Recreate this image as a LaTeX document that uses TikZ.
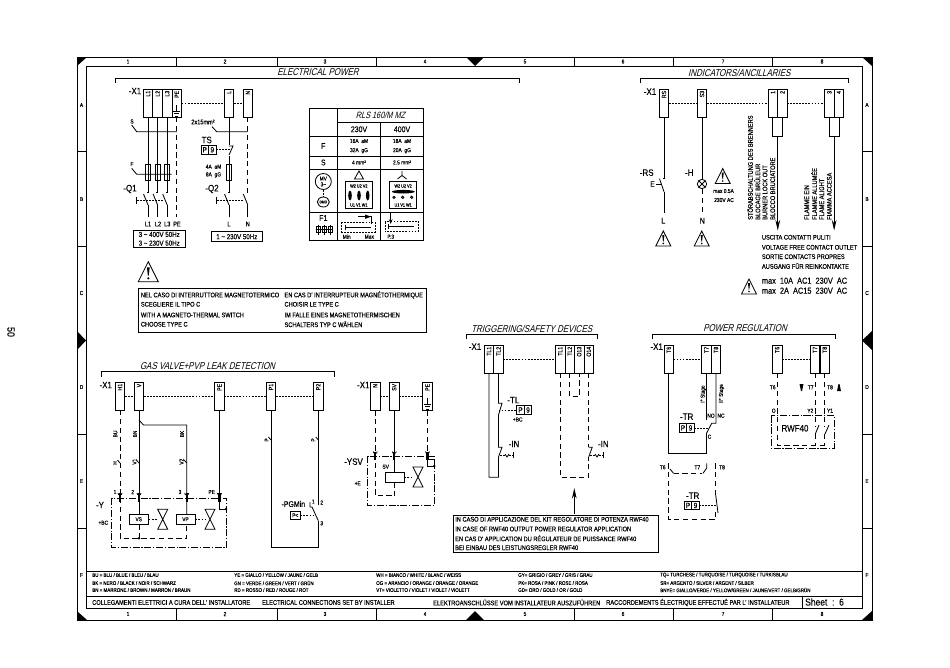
\documentclass[tikz,border=0pt]{standalone}
\usepackage{fontspec}
\setmainfont[FakeStretch=.85,FakeBold=.2]{Liberation Sans}
\newfontfamily\slfont[FakeSlant=.25,FakeStretch=.8]{Liberation Sans}
\usetikzlibrary{positioning,arrows.meta,shapes.geometric}
\tikzset{
  wire/.style={line width=.7pt},
  frameline/.style={line width=.85pt},
  link/.style={line width=.7pt,dash pattern=on 1.6pt off 1pt},
  neutral/.style={line width=.7pt,dash pattern=on 4.5pt off 3pt},
  encl/.style={line width=.7pt,dash pattern=on 6pt off 1.5pt on 1pt off 1.5pt},
  term/.style={draw,line width=.7pt,minimum width=.285cm,minimum height=.84cm,inner sep=0pt,outer sep=0pt},
  termlab/.style={rotate=90,anchor=east,inner sep=1.2pt,font=\fontsize{5.2}{6}\selectfont},
  pbox/.style={draw,line width=.7pt,minimum width=.225cm,minimum height=.255cm,inner sep=0pt,outer sep=0pt,font=\fontsize{6.5}{7}\selectfont},
  fuse/.style={draw,line width=.7pt,minimum width=.14cm,minimum height=.47cm,inner sep=0pt},
  coil/.style={draw,fill=white,line width=.7pt,minimum width=.57cm,minimum height=.3cm,inner sep=0pt,font=\fontsize{4.8}{5}\selectfont},
  sheettitle/.style={font=\slfont\fontsize{8.5}{9}\selectfont,inner sep=0pt},
  big/.style={font=\fontsize{8}{9}\selectfont,inner sep=0pt},
  mid/.style={font=\fontsize{6.5}{7}\selectfont,inner sep=0pt},
  txt/.style={font=\fontsize{5.7}{6}\selectfont,inner sep=0pt,anchor=west},
  tiny/.style={font=\fontsize{4.9}{5}\selectfont,inner sep=0pt},
  leg/.style={font=\fontsize{4.5}{5}\selectfont,inner sep=0pt,anchor=west},
  dot/.style={circle,fill,inner sep=0pt,minimum size=2.4pt}
}
\begin{document}
\begin{tikzpicture}[x=.03cm,y=-.03cm]
  \useasboundingbox (0,0) rectangle (950,667);
  \node[font=\fontsize{9}{10}\selectfont,rotate=-90,inner sep=0pt] (page) at (11,332) {50};

  \draw[frameline] (77,57) rectangle (872,620);
  \draw[frameline] (86,66) rectangle (862,608);
  \foreach \cx in {176,277,376,574,673,772} {
    \draw[frameline] (\cx,57) -- (\cx,66);
    \draw[frameline] (\cx,608) -- (\cx,620);
  }
  \foreach \cy in {151,246,434,528} {
    \draw[frameline] (77,\cy) -- (86,\cy);
    \draw[frameline] (862,\cy) -- (872,\cy);
  }
  \foreach \i/\cx in {1/128,2/225,3/325,4/425,5/525,6/623,7/723,8/822} {
    \node[tiny] (coltop\i) at (\cx,61.5) {\i};
    \node[tiny] (colbot\i) at (\cx,614) {\i};
  }
  \foreach \r/\cy in {A/105,B/199,C/293,D/387,E/481,F/575} {
    \node[tiny] (rowl\r) at (81.5,\cy) {\r};
    \node[tiny] (rowr\r) at (867,\cy) {\r};
  }
  \fill (77,57) -- (87,57) -- (77,66) -- cycle;
  \fill (872,57) -- (862,57) -- (872,66) -- cycle;
  \fill (77,620) -- (87,620) -- (77,611) -- cycle;
  \fill (872,620) -- (862,620) -- (872,611) -- cycle;
  \fill (466,57) -- (484,57) -- (475,66) -- cycle;
  \fill (466,620) -- (484,620) -- (475,611) -- cycle;
  \fill (77,331) -- (77,350) -- (86,340.5) -- cycle;
  \fill (872,331) -- (872,350) -- (862,340.5) -- cycle;

  \draw[wire] (86,571) -- (862,571);
  \draw[wire] (86,596) -- (862,596);
  \draw[wire] (802,596) -- (802,608);
  \foreach \tx/\ty/\txt [count=\i] in {
    92/575/{BU = BLU / BLUE / BLEU / BLAU},
    92/583/{BK = NERO / BLACK / NOIR / SCHWARZ},
    92/590/{BN = MARRONE / BROWN / MARRON / BRAUN},
    234/575/{YE = GIALLO / YELLOW / JAUNE / GELB},
    234/583/{GN = VERDE / GREEN / VERT / GRÜN},
    234/590/{RD = ROSSO / RED / ROUGE / ROT},
    376/575/{WH = BIANCO / WHITE / BLANC / WEISS},
    376/583/{OG = ARANCIO / ORANGE / ORANGE / ORANGE},
    376/590/{VT= VIOLETTO / VIOLET / VIOLET / VIOLETT},
    518/575/{GY= GRIGIO / GREY / GRIS / GRAU},
    518/583/{PK= ROSA / PINK / ROSE / ROSA},
    518/590/{GD= ORO / GOLD / OR / GOLD},
    660/575/{TQ= TURCHESE / TURQUOISE / TURQUOISE / TURKISBLAU},
    660/583/{SR= ARGENTO / SILVER / ARGENT / SILBER},
    660/590/{BNYE= GIALLO/VERDE / YELLOW/GREEN / JAUNE/VERT / GELB/GRÜN}
  } {
    \node[leg] (leg\i) at (\tx,\ty) {\txt};
  }
  \node[txt] (foot1) at (92,602.5) {COLLEGAMENTI ELETTRICI A CURA DELL' INSTALLATORE};
  \node[txt] (foot2) at (262,602.5) {ELECTRICAL CONNECTIONS SET BY INSTALLER};
  \node[txt] (foot3) at (433,602.5) {ELEKTROANSCHLÜSSE VOM INSTALLATEUR AUSZUFÜHREN};
  \node[txt] (foot4) at (606,602.5) {RACCORDEMENTS ÉLECTRIQUE EFFECTUÉ PAR L' INSTALLATEUR};
  \node[big,anchor=west,font=\fontsize{8.5}{9}\selectfont] (sheet) at (805,602) {Sheet\ \ :\ \ 6};

  \foreach \bx/\by/\ex/\tc/\ttl [count=\i] in {
    115/78/519.5/318/{ELECTRICAL POWER},
    640.7/78.3/848.3/739.3/{INDICATORS/ANCILLARIES},
    101/371.7/334.3/207.5/{GAS VALVE+PVP LEAK DETECTION},
    466.7/334/597.3/531.7/{TRIGGERING/SAFETY DEVICES},
    652.3/334/835.7/745/{POWER REGULATION}
  } {
    \draw[wire] (\bx,\by+5) -- (\bx,\by) -- (\ex,\by) -- (\ex,\by+5);
    \node[sheettitle] (title\i) at (\tc,\by-5.5) {\ttl};
  }
  \foreach \n/\tx/\ty/\t in {
    pl1/148/103.2/L1, pl2/157.6/103.2/L2, pl3/167.2/103.2/L3, ppe/176.8/103.2/PE,
    pl/229/103.2/L, pn/247.8/103.2/N,
    irs/664/103.3/RS, is3/702/103.3/S3, ia/773/103.3/1, ib/782.4/103.3/2,
    ic/829.4/103.3/3, id/838.8/103.3/4,
    gh/120/396.2/H1, gv/139/396.2/V, gpe/219.5/396.2/PE, gpa/271/396.2/P1, gpb/318.3/396.2/P2,
    sn/375.2/396.3/N, ssv/394.3/396.3/SV, spe/427.5/396.3/PE,
    ta/489/359.2/TL1, tb/498.5/359.2/TL2, tc/560.2/359.2/TL1, td/569.7/359.2/TL2,
    te/579.2/359.2/O13, tf/588.7/359.2/O14,
    ra/668.7/359.2/T6, rb/706.5/359.2/T7, rc/716/359.2/T8,
    rd/777.2/359.2/T6, re/815/359.2/T7, rf/824.7/359.2/T8
  } {
    \node[term,label={[termlab]north:\t}] (\n) at (\tx,\ty) {};
  }
  \node[term,minimum width=.3cm,minimum height=.57cm,below=0pt of ia.south east] (isa) {};
  \node[term,minimum width=.3cm,minimum height=.57cm,below=0pt of ic.south east] (isb) {};
  \foreach \n/\tx/\ty in {x1a/135/91,x1b/650/91.7,x1c/105.7/385,x1d/363.3/385,x1e/475/346.7,x1f/656.7/346.7} {
    \node[big] (\n) at (\tx,\ty) {-X1};
  }
  \foreach \ex/\ey in {176.8/105,427.5/398} {
    \draw[wire] (\ex,\ey) -- (\ex,\ey+6);
    \draw[wire] (\ex-3.5,\ey+6) -- (\ex+3.5,\ey+6);
    \draw[wire] (\ex-2.5,\ey+8.5) -- (\ex+2.5,\ey+8.5);
    \draw[wire] (\ex-1.5,\ey+11) -- (\ex+1.5,\ey+11);
  }
  \draw[link] (ppe.east |- 0,103.2) -- (pl.west |- 0,103.2);
  \draw[link] (pl) -- (pn);
  \draw[link] (irs) -- (is3);
  \draw[link] (is3) -- (ia);
  \draw[link] (ib) -- (ic);
  \draw[link] (gh) -- (gv);
  \draw[link] (gv) -- (gpe);
  \draw[link] (gpe) -- (gpa);
  \draw[link] (gpa) -- (gpb);
  \draw[link] (sn) -- (ssv);
  \draw[link] (ssv) -- (spe);
  \draw[link] (tb) -- (tc);
  \draw[link] (ra) -- (rb);
  \draw[link] (rd) -- (re);

  \foreach \w/\d in {pl1/f1,pl2/f2,pl3/f3,pl/f4} {
    \node[fuse] (\d) at (\w |- 0,172.2) {};
    \draw[wire] (\w.south) -- (\w |- 0,193);
    \draw[wire] (\w |- 0,205) -- (\w |- 0,217.3);
    \draw[wire] (\w |- 0,205) -- ++(-4.5,-11);
    \draw[wire] (\w |- 0,192) -- ++(-1.5,0);
  }
  \draw[wire] (pn |- 0,205) -- (pn |- 0,217.3);
  \draw[wire] (pn |- 0,205) -- ++(-4.5,-11);
  \draw[neutral] (pn.south) -- (pn |- 0,193);
  \draw[neutral] (ppe.south) -- (ppe |- 0,217.3);
  \draw[wire] (131.7,125) -- (136.7,131.7) -- (ppe |- 0,131.7);
  \draw[wire] (131.7,168.3) -- (136.7,174.3) -- (171.7,174.3);
  \draw[wire] (212,126.7) -- (216.7,131.7) -- (pn |- 0,131.7);
  \draw[link] (136.7,200) -- (164,200);
  \draw[wire] (136.7,196.5) -- (136.7,203.5);
  \draw[link] (216.7,200) -- (244,200);
  \draw[wire] (216.7,196.5) -- (216.7,203.5);
  \node[tiny] (ls) at (132,121.5) {S};
  \node[tiny] (lf) at (132,164) {F};
  \node[big] (lq1) at (130,189) {-Q1};
  \node[big] (lq2) at (212,189) {-Q2};
  \node[tiny,font=\fontsize{5.6}{6}\selectfont] (lx) at (203,122) {2x15mm²};
  \node[big] (lts) at (206.7,140) {TS};
  \node[pbox] (tsp) at (204.8,149.8) {P};
  \node[pbox,right=0pt of tsp] (tsn) {9};
  \fill[white] (225,145) rectangle (233,156);
  \draw[wire] (pl |- 0,146) -- ++(4,0) -- (pl |- 0,155);
  \draw[link] (tsn.east) -- (231,149.8);
  \node[tiny] (lfa) at (213.5,166.7) {4A\ \ aM};
  \node[tiny] (lfb) at (213.5,175) {8A\ \ gG};
  \foreach \tx/\t in {148/L1,158/L2,167.3/L3,177/PE,229/L,247.8/N} {
    \node[tiny,font=\fontsize{5.6}{6}\selectfont] (end\t) at (\tx,224) {\t};
  }
  \node[draw,wire,minimum width=1.55cm,minimum height=.53cm,inner sep=0pt,align=left,font=\fontsize{6.2}{7.4}\selectfont] (sup3) at (159.2,238.8) {3 \textasciitilde\ 400V 50Hz\\3 \textasciitilde\ 230V 50Hz};
  \node[draw,wire,minimum width=1.55cm,minimum height=.3cm,inner sep=0pt,font=\fontsize{6.2}{7}\selectfont] (sup1) at (236.8,236.7) {1 \textasciitilde\ 230V 50Hz};

  \draw[wire] (309,108.3) rectangle (423.3,240.7);
  \draw[wire] (337.7,108.3) -- (337.7,240.7);
  \draw[wire] (380.3,122.3) -- (380.3,240.7);
  \draw[wire] (337.7,122.3) -- (423.3,122.3);
  \foreach \hy in {136.3,156,169,212.7} {
    \draw[wire] (309,\hy) -- (423.3,\hy);
  }
  \node[sheettitle,font=\slfont\fontsize{7.8}{8}\selectfont] (tabhead) at (380.5,115.5) {RLS 160/M MZ};
  \node[mid,font=\fontsize{7}{8}\selectfont] (v230) at (359,129.3) {230V};
  \node[mid,font=\fontsize{7}{8}\selectfont] (v400) at (402,129.3) {400V};
  \node[mid,font=\fontsize{7}{8}\selectfont] (tabf) at (323.3,146) {F};
  \node[mid,font=\fontsize{7}{8}\selectfont] (tabs) at (323.3,162.5) {S};
  \node[tiny] (fa) at (359,141) {16A\ \ aM};
  \node[tiny] (fb) at (359,150.7) {32A\ \ gG};
  \node[tiny] (fc) at (402,141) {18A\ \ aM};
  \node[tiny] (fd) at (402,150.7) {20A\ \ gG};
  \node[tiny] (sa) at (359,162.5) {4 mm²};
  \node[tiny] (sb) at (402,162.5) {2.5 mm²};
  \node[draw,wire,circle,minimum size=.48cm,inner sep=0pt,align=center,font=\fontsize{4.8}{5}\selectfont] (mot) at (323.3,181.5) {MV\\3\textasciitilde};
  \node[draw,wire,ellipse,minimum width=.36cm,minimum height=.3cm,inner sep=0pt,font=\fontsize{3.2}{4}\selectfont] (omo) at (323.3,202) {OMO};
  \draw[link] (mot) -- (omo);
  \draw[wire] (354.5,179) -- (359,171) -- (363.5,179) -- cycle;
  \draw[wire] (402,171) -- (402,175.5) -- (397.5,179);
  \draw[wire] (402,175.5) -- (406.5,179);
  \foreach \bx [count=\i] in {345,389.3} {
    \draw[wire] (\bx,181.7) rectangle (\bx+27.5,208.3);
    \node[font=\fontsize{3.8}{4}\selectfont,inner sep=0pt] (wa\i) at (\bx+13.8,186) {W2 U2 V2};
    \node[font=\fontsize{3.8}{4}\selectfont,inner sep=0pt] (wb\i) at (\bx+13.8,205) {U1 V1 W1};
  }
  \foreach \bx in {350,359,367.7} {
    \fill (\bx,195.5) ellipse (1.8 and 5);
  }
  \fill (403.3,191.7) ellipse (11.5 and 1.8);
  \foreach \bx in {394,402.7,411.7} {
    \draw[wire] (\bx,197.3) circle (1.2);
  }
  \node[mid,font=\fontsize{7}{8}\selectfont] (f1lab) at (323.3,218) {F1};
  \draw[wire] (315.7,229.5) -- (333.3,229.5);
  \foreach \bx in {318.5,324.5,330.5} {
    \draw[wire] (\bx-1.8,226.5) rectangle (\bx+1.8,232.5);
    \draw[wire] (\bx,224.5) -- (\bx,235);
  }
  \draw[link] (341.7,222.3) rectangle (375,232.3);
  \draw[wire] (345.7,224.5) -- (345.7,229.5);
  \draw[wire] (345.7,227) -- (370.7,227);
  \draw[wire] (358.3,216.7) -- (371.7,216.7) -- (371.7,224);
  \fill (365,214.5) -- (371,216.7) -- (365,218.9) -- cycle;
  \node[tiny] (lmin) at (346.7,236.7) {Min};
  \node[tiny] (lmax) at (369.3,236.7) {Max};
  \draw[link] (385,221.7) rectangle (418.3,231.7);
  \draw[wire] (388.5,224) -- (388.5,229);
  \draw[wire] (388.5,226.5) -- (414,226.5);
  \draw[wire,-{Stealth[length=4pt,width=3pt]}] (390.7,213.3) -- (390.7,224);
  \node[tiny] (lp3) at (390.7,236.7) {P.3};

  \foreach \tx/\ty/\ts in {148.3/281.7/20,663.3/246/15,701.7/246/15,722.7/183.5/15,749/294/15} {
    \draw[wire] (\tx-\ts/2,\ty) -- (\tx,\ty-\ts) -- (\tx+\ts/2,\ty) -- cycle;
    \fill (\tx-\ts*.07,\ty-\ts*.72) -- (\tx+\ts*.07,\ty-\ts*.72) -- (\tx+\ts*.02,\ty-\ts*.3) -- (\tx-\ts*.02,\ty-\ts*.3) -- cycle;
    \fill (\tx,\ty-\ts*.17) circle (\ts*.06);
  }
  \node[draw,wire,minimum width=8.63cm,minimum height=1.32cm,inner sep=0pt] (warnbox) at (282.2,310.3) {};
  \foreach \tx/\ty/\txt [count=\i] in {
    140.7/295/{NEL CASO DI INTERRUTTORE MAGNETOTERMICO},
    284.3/295/{EN CAS D' INTERRUPTEUR MAGNÉTOTHERMIQUE},
    140.7/304.3/{SCEGLIERE IL TIPO C},
    284.3/304.3/{CHOISIR LE TYPE C},
    140.7/315/{WITH A MAGNETO-THERMAL SWITCH},
    284.3/315/{IM FALLE EINES MAGNETOTHERMISCHEN},
    140.7/324.3/{CHOOSE TYPE C},
    284.3/324.3/{SCHALTERS TYP C WÄHLEN},
    761.7/237.3/{USCITA CONTATTI PULITI},
    761.7/247.3/{VOLTAGE FREE CONTACT OUTLET},
    761.7/256.7/{SORTIE CONTACTS PROPRES},
    761.7/266/{AUSGANG FÜR REINKONTAKTE}
  } {
    \node[txt] (note\i) at (\tx,\ty) {\txt};
  }
  \node[big,anchor=west,font=\fontsize{7.4}{8}\selectfont] (maxa) at (761.7,280.7) {max\ \ 10A\ \ AC1\ \ 230V\ \ AC};
  \node[big,anchor=west,font=\fontsize{7.4}{8}\selectfont] (maxb) at (761.7,290.7) {max\ \ 2A\ \ AC15\ \ 230V\ \ AC};

  \draw[wire] (irs.south) -- (irs |- 0,178.3) -- ++(-1.5,0);
  \draw[wire] (irs |- 0,191.7) -- (irs |- 0,213.3);
  \draw[wire] (irs |- 0,191.7) -- ++(-4.5,-13);
  \draw[wire] (656,184) -- (661.5,184);
  \node[mid] (le) at (652.5,184) {E};
  \node[big] (lrs) at (646.7,172.7) {-RS};
  \node[big] (lh) at (689.3,172.7) {-H};
  \node[mid,font=\fontsize{7}{8}\selectfont] (ll) at (663.3,220.7) {L};
  \node[mid,font=\fontsize{7}{8}\selectfont] (ln) at (702.3,220.7) {N};
  \node[draw,wire,circle,minimum size=.28cm,inner sep=0pt,path picture={\draw[wire] (path picture bounding box.south west) -- (path picture bounding box.north east) (path picture bounding box.north west) -- (path picture bounding box.south east);}] (lamp) at (702,184) {};
  \draw[wire] (is3.south) -- (lamp.north);
  \draw[neutral] (lamp.south) -- (is3 |- 0,213.3);
  \node[tiny] (lma) at (723.5,191) {max 0.5A};
  \node[tiny] (lmb) at (724,200) {230V AC};
  \foreach \b in {isa,isb} {
    \draw[wire,-{Stealth[length=9pt,width=4pt]}] (\b.south) -- (\b |- 0,230.5);
  }
  \foreach \tx/\txt [count=\i] in {
    750/{STÖRABSCHALTUNG DES BRENNERS},
    757.3/{BLOCAGE BRÛLEUR},
    765/{BURNER LOCK OUT},
    772.7/{BLOCCO BRUCIATORE},
    806.7/{FLAMME EIN},
    814/{FLAMME ALLUMÉE},
    821.7/{FLAME ALIGHT},
    829.3/{FIAMMA ACCESA}
  } {
    \node[txt,rotate=90,anchor=west] (flag\i) at (\tx,220) {\txt};
  }

  \draw[neutral] (gh.south) -- (gh |- 0,538.3) -- (186.7,538.3) -- (186.7,524.3);
  \draw[wire] (gv.south) -- (139,514.3);
  \draw[neutral] (139,524.3) -- (139,538.3);
  \draw[wire] (139,420) -- (143.5,425) -- (186.7,425) -- (186.7,514.3);
  \draw[wire] (gpe.south) -- (219.5,509) -- (226,509);
  \node[dot] (dg1) at (139,538.3) {};
  \node[dot] (dg2) at (226,509) {};
  \node[coil] (vs) at (138.7,519.3) {VS};
  \node[coil] (vp) at (185.5,519.3) {VP};
  \draw[encl] (111.7,498.3) rectangle (226.7,547.7);
  \foreach \px/\py in {120/493.3,139/493.3,186.7/493.3,219.5/493.3,375.2/451.7,394.3/451.7,427.5/451.7} {
    \draw[line width=2pt] (\px,\py) -- (\px,\py+8.5);
    \draw[wire] (\px-2,\py-.2) arc (180:0:2);
  }
  \foreach \vx/\vy in {162.7/519.3,210/519.3,418/477} {
    \draw[wire] (\vx-5,\vy-10) -- (\vx+5,\vy-10) -- (\vx-5,\vy+10) -- (\vx+5,\vy+10) -- cycle;
  }
  \draw[link] (vs) -- (157.7,519.3);
  \draw[link] (vp) -- (205,519.3);
  \foreach \tx/\ty/\txt [count=\i] in {115/492/1,132.7/492/2,180/492/3,211.7/492/PE} {
    \node[tiny] (pin\i) at (\tx,\ty) {\txt};
  }
  \foreach \tx/\ty/\txt [count=\i] in {115.3/434/BU,115/463/H,135/434/BN,134.5/461.7/V1,182/434/BK,181.5/461.7/V2,266.7/440/P,313.3/440/P} {
    \node[tiny,rotate=90] (wl\i) at (\tx,\ty) {\txt};
  }
  \foreach \sx/\sy in {120/463,139/463,186.7/463,271/440,318.3/440} {
    \draw[wire] (\sx-2.5,\sy-3) -- (\sx,\sy);
  }
  \node[big] (ly) at (100,505) {-Y};
  \node[tiny] (lbc) at (103.3,522.7) {+BC};
  \draw[wire] (gpa.south) -- (271,547.7) -- (318.3,547.7) -- (318.3,520.7);
  \draw[wire] (gpb.south) -- (318.3,505);
  \draw[wire] (318.3,520.7) -- (312,507) -- (310,507) -- (310,502);
  \node[mid,font=\fontsize{7}{8}\selectfont] (lpg) at (293.3,504) {-PGMin};
  \node[tiny] (c1) at (313.3,501.5) {1};
  \node[tiny] (c2) at (321.7,502.5) {2};
  \node[tiny] (c3) at (321.7,523.3) {3};
  \node[draw,wire,minimum width=.28cm,minimum height=.25cm,inner sep=0pt,font=\fontsize{4.8}{5}\selectfont] (pless) at (295.3,515.3) {P<};
  \draw[link] (pless) -- (314,515.3);

  \draw[neutral] (sn.south) -- (375.2,495.7) -- (394.3,495.7);
  \draw[wire] (ssv.south) -- (394.3,472.3);
  \draw[neutral] (394.3,482.3) -- (394.3,495.7);
  \draw[neutral] (spe.south) -- (427.5,451.7);
  \draw[wire] (427.5,459) -- (434.3,459) -- (434.3,466) -- (427.5,466) -- (427.5,459);
  \node[dot] (ds1) at (434.3,466) {};
  \node[coil,minimum width=.57cm] (coilsv) at (394.5,477.3) {};
  \draw[link] (coilsv) -- (413,477.3);
  \draw[encl] (367.7,456) rectangle (434.3,505.3);
  \node[tiny] (lsv) at (385.7,466.7) {SV};
  \node[big] (lysv) at (353.5,461.7) {-YSV};
  \node[tiny] (lpe) at (357.7,483.3) {+E};

  \draw[wire] (tb.south) -- (tb |- 0,403.3) -- ++(3.5,0) -- (tb |- 0,415) -- (tb |- 0,447.3) -- ++(3.5,0) -- (tb |- 0,457) -- (tb |- 0,477.3) -- (ta |- 0,477.3) -- (ta.south);
  \draw[link] (tb |- 0,410) -- (516.7,410);
  \node[pbox] (tlp) at (520.5,410) {P};
  \node[pbox,right=0pt of tlp] (tln) {9};
  \node[big] (ltl) at (513.3,400) {-TL};
  \node[tiny] (ltb) at (517.7,419.5) {+BC};
  \node[big] (lina) at (514,444) {-IN};
  \draw[link] (500,455) -- (505,455);
  \draw[link] (509,455) -- (513,455);
  \draw[wire] (505,454) -- (507,457) -- (509,454);
  \draw[wire] (513,452) -- (513,458);
  \draw[neutral] (tc.south) -- (tc |- 0,477.3) -- (tf |- 0,477.3) -- (tf |- 0,457);
  \draw[neutral] (tf.south) -- (tf |- 0,447.3);
  \draw[wire] (tf |- 0,447.3) -- ++(3.5,0) -- (tf |- 0,457);
  \draw[neutral] (td.south) -- (td |- 0,396.7) -- (te |- 0,396.7) -- (te.south);
  \node[big] (linb) at (603.3,444) {-IN};
  \draw[link] (590,455) -- (595,455);
  \draw[link] (599,455) -- (603,455);
  \draw[wire] (595,454) -- (597,457) -- (599,454);
  \draw[wire] (603,452) -- (603,458);
  \node[draw,wire,minimum width=6.15cm,minimum height=1.13cm,inner sep=0pt] (kitbox) at (555.8,533.8) {};
  \draw[wire,-{Stealth[length=9pt,width=4pt]}] (574.3,513.5) -- (574.3,488);
  \foreach \ty/\txt [count=\i] in {
    519.3/{IN CASO DI APPLICAZIONE DEL KIT REGOLATORE DI POTENZA RWF40},
    529/{IN CASE OF RWF40 OUTPUT POWER REGULATOR APPLICATION},
    538.3/{EN CAS D' APPLICATION DU RÉGULATEUR DE PUISSANCE RWF40},
    547.7/{BEI EINBAU DES LEISTUNGSREGLER RWF40}
  } {
    \node[txt] (kit\i) at (455,\ty) {\txt};
  }

  \draw[wire] (ra.south) -- (ra |- 0,453.3) -- (rb |- 0,453.3) -- (rb |- 0,433.3);
  \draw[wire] (rb.south) -- (rb |- 0,420);
  \draw[wire] (rc.south) -- (rc |- 0,423.3) -- (711.7,423.3) -- (rb |- 0,433.3);
  \node[tiny] (lno) at (711,415.7) {NO};
  \node[tiny] (lnc) at (721,415.7) {NC};
  \node[tiny] (lc) at (709.5,436.7) {C};
  \node[tiny,rotate=90] (lst1) at (703.2,394) {I° Stage};
  \node[tiny,rotate=90] (lst2) at (721.5,393.5) {II° Stage};
  \node[big] (ltr1) at (686.7,416.7) {-TR};
  \node[pbox] (trp) at (683,428) {P};
  \node[pbox,right=0pt of trp] (trn) {9};
  \draw[link] (trn.east) -- (709,428);

  \draw[neutral] (668.7,463.3) -- (668.7,519.3) -- (715.7,519.3) -- (715.7,512);
  \draw[neutral] (715.7,463.3) -- (715.7,495);
  \draw[wire] (715.7,495) -- (718,513);
  \draw[wire] (670,469) -- (673.5,473.3);
  \draw[neutral] (673.5,473.3) -- (702,473.3);
  \draw[wire] (703,473.3) -- (706.7,468) -- (706.7,463.3);
  \node[tiny] (t6a) at (662.7,467.3) {T6};
  \node[tiny] (t7a) at (697.3,467.3) {T7};
  \node[tiny] (t8a) at (722,467.3) {T8};
  \node[big] (ltr2) at (692.7,495.7) {-TR};
  \node[pbox] (tsp2) at (688,505.5) {P};
  \node[pbox,right=0pt of tsp2] (tsn2) {9};
  \draw[link] (tsn2.east) -- (716,505.5);

  \draw[neutral] (rd.south) -- (rd |- 0,445) -- (824.7,445);
  \draw[neutral] (re.south) -- (re |- 0,426);
  \draw[neutral] (rf.south) -- (rf |- 0,426);
  \draw[neutral] (re |- 0,434) -- (re |- 0,445);
  \draw[neutral] (rf |- 0,434) -- (rf |- 0,445);
  \draw[wire] (815.3,434) -- (819,425);
  \draw[wire] (825,434) -- (829,425);
  \draw[encl] (771,415.7) rectangle (834.3,448.3);
  \node[mid,font=\fontsize{8}{9}\selectfont] (lrwf) at (795,428.3) {RWF40};
  \node[tiny] (t6b) at (772.7,387.3) {T6};
  \node[tiny] (t7b) at (810.7,387.3) {T7};
  \node[tiny] (t8b) at (830,387.3) {T8};
  \node[tiny] (y0) at (773.7,410.7) {O};
  \node[tiny] (y2) at (810.3,410.7) {Y2};
  \node[tiny] (y1) at (830,410.7) {Y1};
  \fill (799.5,384) -- (803.5,384) -- (802,391) -- (801,391) -- cycle;
  \fill (837,391) -- (841,391) -- (839.5,384) -- (838.5,384) -- cycle;
\end{tikzpicture}
\end{document}
